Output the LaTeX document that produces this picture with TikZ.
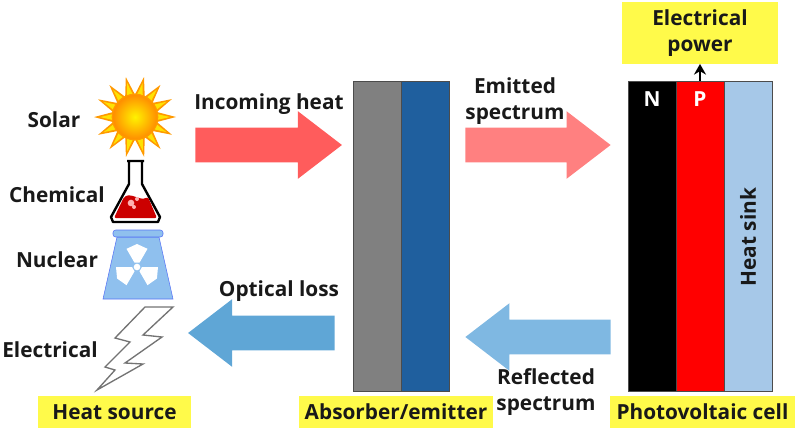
\documentclass[tikz,border=0pt]{standalone}
\usepackage{fontspec}
\setmainfont{Open Sans}
\usetikzlibrary{arrows.meta,shapes.arrows,calc}
\definecolor{labelyellow}{HTML}{FFFA4A}
\definecolor{layerblue}{HTML}{1F5F9E}
\definecolor{sinkblue}{HTML}{A6C8E8}
\definecolor{reactorblue}{HTML}{8FC0EE}
\definecolor{incomingred}{HTML}{FF5C5C}
\definecolor{emittedred}{HTML}{FF8080}
\definecolor{reflectedblue}{HTML}{7FB8E2}
\definecolor{opticalblue}{HTML}{5FA6D6}
\tikzset{
    txt/.style={font=\bfseries\fontsize{15.6}{20}\selectfont, text=black!90, inner sep=0pt, align=center},
    tag/.style={txt, fill=labelyellow, minimum height=24.5pt},
    layer/.style={draw=black!70, line width=0.6pt, minimum width=36pt, minimum height=233pt, inner sep=0pt},
    flow/.style={single arrow, anchor=tail, single arrow tip angle=75, single arrow head extend=12.4pt, inner xsep=0pt, inner ysep=12.75pt, minimum height=#1},
}
\begin{document}
\begin{tikzpicture}[x=0.75pt, y=-0.75pt]
    \useasboundingbox (0,0) rectangle (800,430);

    % layers
    \node [layer, fill=black!50] (gray) at (377,236.5) {};
    \node [layer, fill=layerblue] (blue) at (425,236.5) {};
    \node [layer, fill=black] (n) at (652,236.5) {};
    \node [layer, fill=red] (p) at (700,236.5) {};
    \node [layer, fill=sinkblue] (sink) at (748,236.5) {};
    \node [txt, text=white] at (652,99) {N};
    \node [txt, text=white] at (700,99) {P};
    \node [txt, rotate=90] at (748,237) {Heat sink};

    % arrows
    \node [flow=110pt, fill=incomingred] (incoming) at (195,145) {};
    \node [flow=109pt, fill=emittedred] (emitted) at (465,145) {};
    \node [flow=109pt, shape border rotate=180, fill=reflectedblue] (reflected) at (611,337) {};
    \node [flow=110pt, shape border rotate=180, fill=opticalblue] (optical) at (335,333) {};

    % labels
    \node [txt] at (269,104) {Incoming heat};
    \node [txt] at (515,101) {Emitted\\spectrum};
    \node [txt] at (279,291) {Optical loss};
    \node [txt] at (546,392) {Reflected\\spectrum};
    \node [txt] at (54,120) {Solar};
    \node [txt] at (57,195) {Chemical};
    \node [txt] at (57,260) {Nuclear};
    \node [txt] at (50,350) {Electrical};

    \node [tag, minimum width=115pt] (heat) at (114.5,412) {Heat source};
    \node [tag, minimum width=146pt] (absorber) at (396,412) {Absorber/emitter};
    \node [tag, minimum width=139pt] (cell) at (702.5,412) {Photovoltaic cell};
    \node [tag, minimum width=117pt, minimum height=46pt] (power) at (700,33) {Electrical\\power};
    \draw [-{Stealth[length=8pt,width=9pt]}, line width=1.5pt] (p.north) -- (power.south);

    % sun
    \foreach \a in {0,25.7,...,350} {
        \fill [orange!80!yellow] ($(135,117)+(\a-15:21)$) -- ($(135,117)+(\a:41)$) -- ($(135,117)+(\a+15:21)$) -- cycle;
        \fill [yellow!85!orange] ($(135,117)+(\a-9:21)$) -- ($(135,117)+(\a:35)$) -- ($(135,117)+(\a+9:21)$) -- cycle;
    }
    \shade [inner color=yellow!90!orange, outer color=orange!90!yellow, draw=orange!80!yellow, line width=1pt] (135,117) circle (17pt);

    % flask
    \draw [line width=1.8pt, fill=white, line join=round] (127,161) -- (144,161) (129,161) -- (129,184) -- (111,217) -- (113,222) -- (158,222) -- (160,217) -- (142,184) -- (142,161);
    \fill [red!80!black, rounded corners=1.5pt] (124,197) .. controls (132,193) and (140,201) .. (148,197) -- (157,218) -- (114,218) -- cycle;
    \fill [white!70!red] (131,203) circle (2.5pt) (137,199) circle (1.5pt) (134,207) circle (1.5pt);

    % reactor
    \fill [reactorblue, draw=blue!40!reactorblue] (117,237) -- (159,237) -- (173,299) -- (103,299) -- cycle;
    \fill [reactorblue, draw=blue!40!reactorblue, rounded corners=2pt] (113,230) rectangle (163,237);
    \foreach \a in {30,150,270} {
        \fill [white] ($(137,267)+(\a-30:5)$) -- ($(137,267)+(\a-30:21)$) -- ($(137,267)+(\a:23)$) -- ($(137,267)+(\a+30:21)$) -- ($(137,267)+(\a+30:5)$) -- cycle;
    }
    \fill [white] (137,267) circle (2.5pt);

    % bolt
    \draw [black!55, line width=1pt, fill=white, line join=miter] (173,307) -- (143,335) -- (162,337) -- (125,363) -- (143,364) -- (97,390) -- (115,370) -- (105,367) -- (130,342) -- (115,338) -- (145,307) -- cycle;
\end{tikzpicture}
\end{document}
